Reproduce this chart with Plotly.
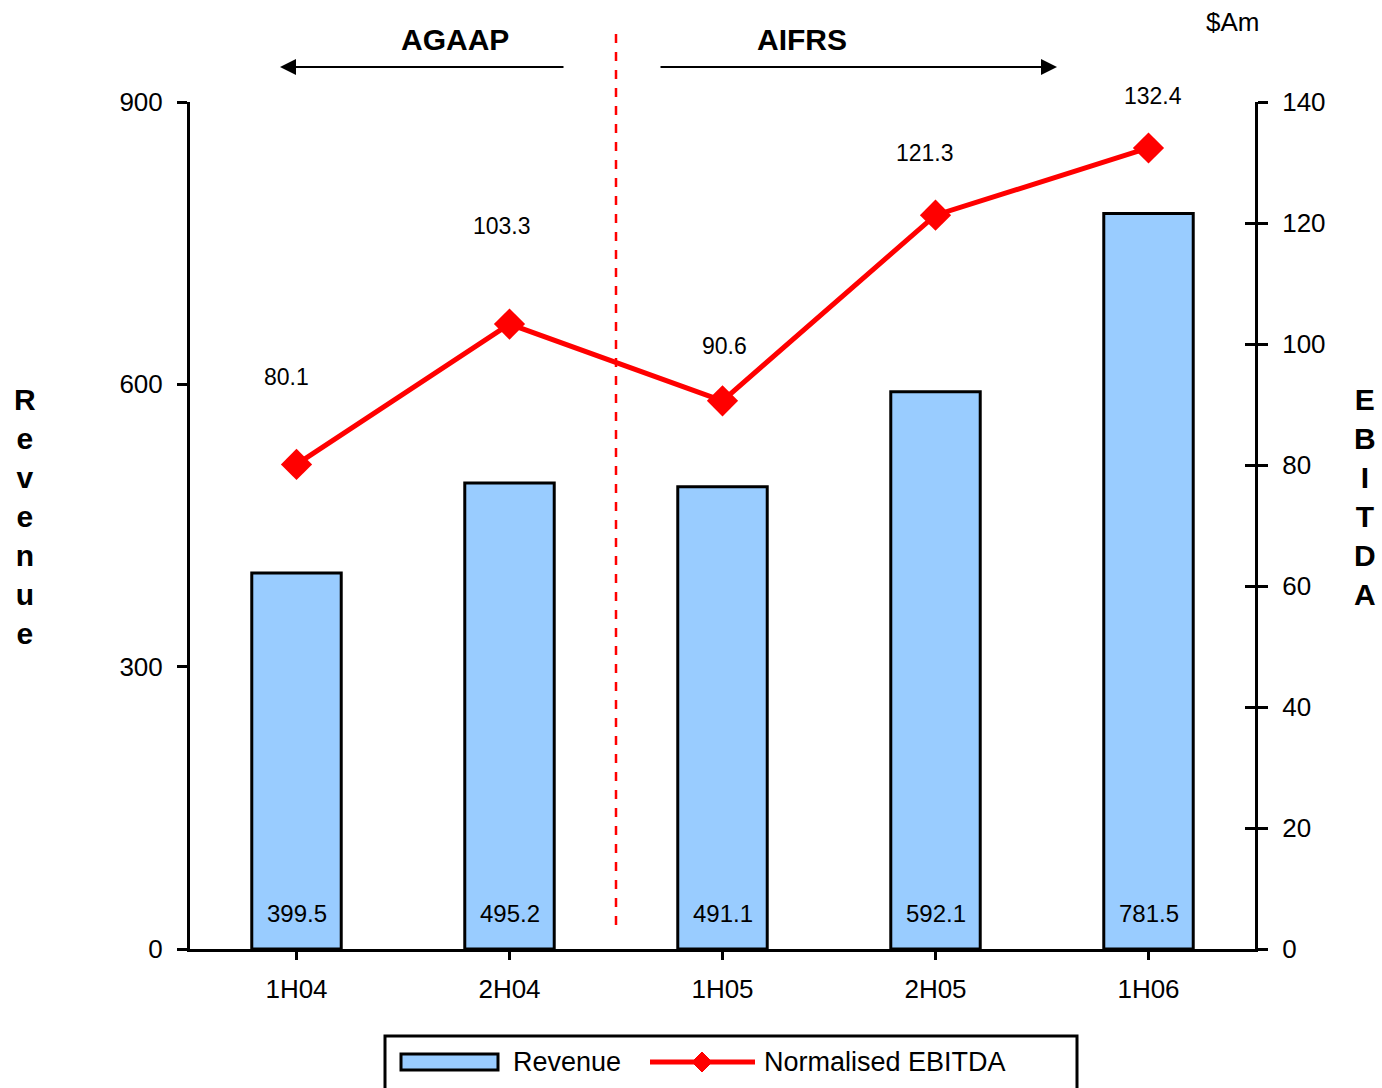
import plotly.graph_objects as go

# Half-year periods and figures ($A million)
periods = ["1H04", "2H04", "1H05", "2H05", "1H06"]
revenue = [399.5, 495.2, 491.1, 592.1, 781.5]
ebitda = [80.1, 103.3, 90.6, 121.3, 132.4]
revenue_ticks = [0, 300, 600, 900]
ebitda_ticks = [0, 20, 40, 60, 80, 100, 120, 140]

FONT = "Liberation Sans, Arial, sans-serif"
W, H = 1382, 1088
L, R, T, B = 190, 127, 102, 139
PW, PH = W - L - R, H - T - B


def px(x):
    """Pixel column -> paper x."""
    return (x - L) / PW


def py(y):
    """Pixel row -> paper y."""
    return (H - B - y) / PH


def label(x, y, text, size, **kw):
    """Free-standing text centred on a pixel position."""
    return dict(x=px(x), y=py(y), xref="paper", yref="paper", text=text,
                showarrow=False, xanchor=kw.pop("xanchor", "center"),
                yanchor="middle", font=dict(family=FONT, size=size, color="black"), **kw)


xpos = list(range(len(periods)))

fig = go.Figure()

fig.add_trace(go.Bar(
    x=xpos, y=revenue, name="Revenue", width=0.42,
    marker=dict(color="#99CCFF", line=dict(color="black", width=3)),
    yaxis="y", showlegend=False,
))

fig.add_trace(go.Scatter(
    x=xpos, y=ebitda, name="Normalised EBITDA", mode="lines+markers",
    line=dict(color="#FF0000", width=5),
    marker=dict(symbol="diamond", size=24, color="#FF0000"),
    yaxis="y2", showlegend=False,
))

# Invisible twin of the EBITDA axis that supplies the inward half of its ticks
fig.add_trace(go.Scatter(x=[0], y=[0], yaxis="y3", mode="markers",
                         marker=dict(opacity=0), showlegend=False, hoverinfo="skip"))

annotations = []

# Revenue values sit at the foot of each bar
for x, v in zip(xpos, revenue):
    annotations.append(dict(x=x, y=0, xref="x", yref="y", text=f"{v:.1f}",
                            showarrow=False, yanchor="bottom", yshift=20,
                            font=dict(family=FONT, size=24, color="black")))

# EBITDA values float above the markers
label_dx = [-10, -8, 2, -11, 4]
label_dy = [87, 98, 55, 62, 52]
for x, v, dx, dy in zip(xpos, ebitda, label_dx, label_dy):
    annotations.append(dict(x=x, y=v, xref="x", yref="y2", text=f"{v:.1f}",
                            showarrow=False, xshift=dx, yshift=dy,
                            font=dict(family=FONT, size=23, color="black")))

# Accounting-standard headings and arrows
annotations += [
    label(455, 40, "<b>AGAAP</b>", 30),
    label(802, 40, "<b>AIFRS</b>", 30),
    dict(x=px(280), y=py(67), ax=565 - 280, ay=0, xref="paper", yref="paper",
         axref="pixel", ayref="pixel", text="", showarrow=True, arrowhead=2,
         arrowsize=1.6, arrowwidth=2, arrowcolor="black"),
    dict(x=px(1057), y=py(67), ax=659 - 1057, ay=0, xref="paper", yref="paper",
         axref="pixel", ayref="pixel", text="", showarrow=True, arrowhead=2,
         arrowsize=1.6, arrowwidth=2, arrowcolor="black"),
    label(1232, 22, "$Am", 26),
    # Stacked axis titles
    label(25, 516, "<b>" + "<br>".join("Revenue") + "</b>", 30),
    label(1365, 497, "<b>" + "<br>".join("EBITDA") + "</b>", 30),
    # Legend entries
    label(511, 1062, "Revenue", 27, xanchor="left"),
    label(762, 1062, "Normalised EBITDA", 27, xanchor="left"),
]

shapes = [
    # AGAAP / AIFRS divider
    dict(type="line", xref="x", yref="paper", x0=1.5, x1=1.5, y0=py(925), y1=py(30),
         line=dict(color="#FF0000", width=2.5, dash="dash")),
    # Legend frame and swatches
    dict(type="rect", xref="paper", yref="paper", x0=px(385), x1=px(1077),
         y0=py(1095), y1=py(1036), line=dict(color="black", width=3),
         fillcolor="rgba(0,0,0,0)"),
    dict(type="rect", xref="paper", yref="paper", x0=px(401), x1=px(498),
         y0=py(1070), y1=py(1054), line=dict(color="black", width=3),
         fillcolor="#99CCFF"),
    dict(type="line", xref="paper", yref="paper", x0=px(650), x1=px(755),
         y0=py(1062), y1=py(1062), line=dict(color="#FF0000", width=5)),
    dict(type="path", xref="paper", yref="paper",
         path=(f"M{px(702)},{py(1052)} L{px(712)},{py(1062)} "
               f"L{px(702)},{py(1072)} L{px(692)},{py(1062)} Z"),
         fillcolor="#FF0000", line=dict(color="#FF0000", width=1)),
]

fig.update_layout(
    width=W, height=H,
    margin=dict(l=L, r=R, t=T, b=B),
    paper_bgcolor="white", plot_bgcolor="white",
    font=dict(family=FONT, size=25, color="black"),
    xaxis=dict(
        range=[-0.5, len(periods) - 0.5], tickmode="array", tickvals=xpos,
        ticktext=periods, tickson="boundaries", ticks="outside", ticklen=8,
        tickwidth=3, tickcolor="black", showline=True, linecolor="black",
        linewidth=3, showgrid=False, zeroline=False,
        tickfont=dict(family=FONT, size=26), ticklabelstandoff=7,
    ),
    yaxis=dict(
        range=[0, 900], tickvals=revenue_ticks, ticks="outside", ticklen=10,
        tickwidth=3, tickcolor="black", showline=True, linecolor="black",
        linewidth=3, showgrid=False, zeroline=False,
        tickfont=dict(family=FONT, size=26), ticklabelstandoff=9,
    ),
    yaxis2=dict(
        range=[0, 140], tickvals=ebitda_ticks, overlaying="y", side="right",
        ticks="outside", ticklen=10, tickwidth=3, tickcolor="black",
        showline=True, linecolor="black", linewidth=3, showgrid=False,
        zeroline=False, tickfont=dict(family=FONT, size=26), ticklabelstandoff=9,
    ),
    yaxis3=dict(
        range=[0, 140], tickvals=ebitda_ticks, overlaying="y", side="right",
        ticks="inside", ticklen=10, tickwidth=3, tickcolor="black",
        showticklabels=False, showline=False, showgrid=False, zeroline=False,
    ),
    annotations=annotations,
    shapes=shapes,
    showlegend=False,
)

fig.write_html("out.html")
